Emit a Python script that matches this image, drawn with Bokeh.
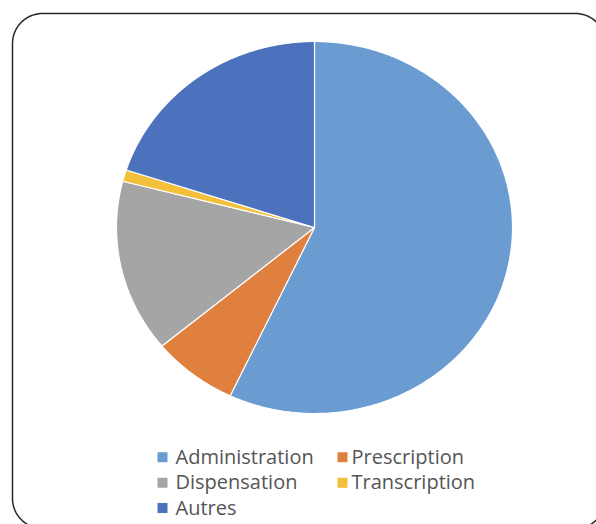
import numpy as np
from bokeh.plotting import figure
from bokeh.models import Range1d, ColumnDataSource
from bokeh.core.properties import value
from bokeh.embed import file_html
from bokeh.resources import INLINE

# ---- data ----
categories = ["Administration", "Prescription", "Dispensation", "Transcription", "Autres"]
values = [57, 7, 15, 1, 20]
colors = ["#6A9BD1", "#E0803F", "#A5A5A5", "#F4BF3A", "#4D72BD"]

# ---- layout (screen-pixel data space) ----
W, H = 596, 524
CX, CY, RX, RY = 314, 227, 198, 186

p = figure(width=W, height=H, output_backend="svg", toolbar_location=None,
           x_range=Range1d(0, W), y_range=Range1d(H, 0),
           min_border=0, background_fill_color="white", border_fill_color="white")
p.axis.visible = False
p.grid.visible = False
p.outline_line_color = None

# pie slices (elliptical, clockwise from 12 o'clock)
total = float(sum(values))
fr = np.cumsum([0] + values) / total
xs, ys = [], []
for i in range(len(values)):
    t = np.linspace(fr[i], fr[i + 1], max(4, int(400 * (fr[i + 1] - fr[i])))) * 2 * np.pi
    xs.append(np.concatenate([[CX], CX + RX * np.sin(t), [CX]]).tolist())
    ys.append(np.concatenate([[CY], CY - RY * np.cos(t), [CY]]).tolist())
p.patches(xs=xs, ys=ys, fill_color=colors, line_color="white", line_width=1.2)

# legend
lx = [162, 342]
tx = [175, 351]
rows_y = [456.7, 482.3, 507.5]
rows_base = [455.7, 481.3, 506.7]
src = ColumnDataSource(dict(
    sx=[lx[i % 2] for i in range(len(categories))],
    sy=[rows_y[i // 2] for i in range(len(categories))],
    tx=[tx[i % 2] for i in range(len(categories))],
    ty=[rows_base[i // 2] for i in range(len(categories))],
    label=categories, color=colors))
p.scatter(x="sx", y="sy", marker="square", size=10, fill_color="color", line_color=None, source=src)
p.text(x="tx", y="ty", text="label", text_font=value("Open Sans"), text_font_size="20px",
       text_color="#555555", text_baseline="alphabetic", text_align="left", source=src)

# rounded frame
x0, y0, x1, y1, r = 12, 13, 605, 528, 30
def arc(cx, cy, a0, a1):
    a = np.linspace(a0, a1, 20)
    return cx + r * np.cos(a), cy + r * np.sin(a)
segs = [arc(x0 + r, y0 + r, np.pi, 1.5 * np.pi), arc(x1 - r, y0 + r, 1.5 * np.pi, 2 * np.pi),
        arc(x1 - r, y1 - r, 0, 0.5 * np.pi), arc(x0 + r, y1 - r, 0.5 * np.pi, np.pi)]
fx = np.concatenate([s[0] for s in segs] + [[x0]])
fy = np.concatenate([s[1] for s in segs] + [[y0 + r]])
p.line(fx, fy, line_color="#262626", line_width=1.5)

open("out.html", "w").write(file_html(p, INLINE))
